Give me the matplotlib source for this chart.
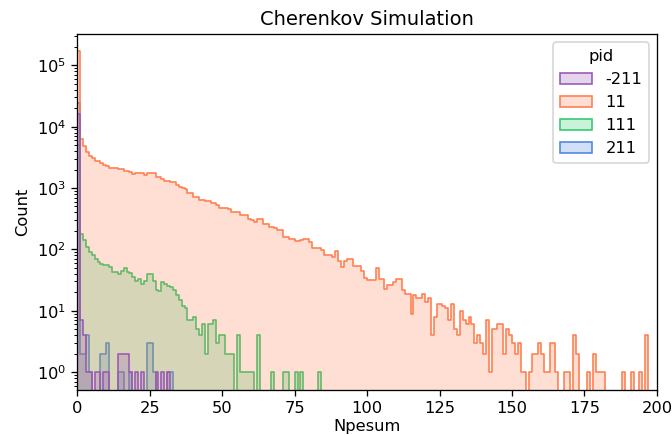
import numpy as np
import pandas as pd
import matplotlib
matplotlib.use("Agg")
import matplotlib.pyplot as plt
import seaborn as sns

# counts per unit-width Npesum bin, starting at 0
pid_list = [-211, 11, 111, 211]

counts_m211 = [16000, 7, 4, 1, 1, 0, 1, 1, 0, 1, 1, 0, 0, 0, 2, 2, 2, 2, 1, 0,
               1, 0, 1, 0, 0, 0, 0, 1, 0, 1, 0, 1]

counts_11 = [
    170000, 6400, 4800, 3800, 3380, 3100, 2800, 2800, 2550, 2360,
    2250, 2140, 2140, 2140, 2060, 2060, 1900, 1900, 1840, 1690,
    1790, 1790, 1790, 1660, 1740, 1740, 1740, 1520, 1520, 1400,
    1320, 1320, 1240, 1240, 1130, 1030, 1000, 970, 830, 830,
    710, 710, 645, 645, 625, 625, 570, 570, 520, 470,
    470, 470, 450, 405, 405, 405, 358, 358, 358, 310,
    300, 277, 316, 316, 255, 255, 228, 228, 225, 205,
    205, 158, 158, 150, 150, 135, 135, 144, 147, 150,
    131, 106, 106, 106, 96, 80, 80, 80, 75, 94,
    64, 51, 64, 70, 70, 53, 53, 53, 45, 34,
    32, 32, 32, 50, 33, 33, 23, 26, 26, 29,
    33, 33, 22, 19, 19, 9, 18, 16, 16, 19,
    14, 16, 4, 8, 13, 13, 12, 11, 7, 13,
    5, 4, 10, 7, 6, 8, 6, 3, 4, 3,
    2, 7, 1, 5, 5, 6, 6, 2, 5, 4,
    3, 2, 3, 1, 1, 0, 1, 2, 2, 3,
    2, 1, 1, 3, 3, 1, 0, 0, 1, 1,
    0, 4, 2, 0, 0, 0, 1, 0, 2, 1,
    1, 1, 0, 0, 0, 0, 0, 0, 1, 0,
    0, 1, 0, 0, 1, 0, 4, 0, 0, 0,
]

counts_111 = [
    5000, 180, 140, 110, 90, 80, 70, 63, 58, 55,
    55, 52, 43, 42, 39, 45, 50, 43, 41, 35,
    31, 33, 27, 30, 39, 40, 31, 22, 21, 29,
    27, 25, 24, 22, 18, 15, 12, 11, 7, 7,
    8, 5, 4, 6, 2, 6, 6, 7, 3, 4,
    4, 2, 2, 2, 0, 4, 1, 1, 1, 1,
    1, 0, 4, 0, 0, 0, 0, 1, 0, 0,
    0, 1, 1, 0, 0, 1, 0, 1, 0, 0,
    0, 0, 0, 1,
]

counts_211 = [24000, 2, 2, 4, 1, 0, 0, 0, 2, 2, 3, 0, 0, 0, 1, 1, 0, 0, 1, 0,
              0, 0, 0, 0, 3, 3, 1, 0, 0, 0, 0, 1, 1]

colors = ["#9b59b6", "#ff7f50", "#2ecc71", "#4f86e0"]

rows = []
for pid, counts in zip(pid_list, [counts_m211, counts_11, counts_111, counts_211]):
    for i, c in enumerate(counts):
        if c > 0:
            rows.append({"Npesum": i + 0.5, "weight": c, "pid": pid})
df = pd.DataFrame(rows)

fig = plt.figure(figsize=(672 / 117, 435 / 117), dpi=117)
ax = fig.add_axes([0.1150, 0.1034, 0.8625, 0.8177])

sns.histplot(
    data=df, x="Npesum", weights="weight", hue="pid",
    bins=200, binrange=(0, 200), element="step",
    palette=dict(zip(pid_list, colors)), ax=ax,
)
ax.set_yscale("log")
ax.set_xlim(0, 200)
ax.set_ylim(0.51, 3.2e5)
ax.set_xlabel("Npesum", labelpad=1.5)
ax.set_ylabel("Count")
ax.set_title("Cherenkov Simulation")

fig.savefig("out.png", dpi=117)
